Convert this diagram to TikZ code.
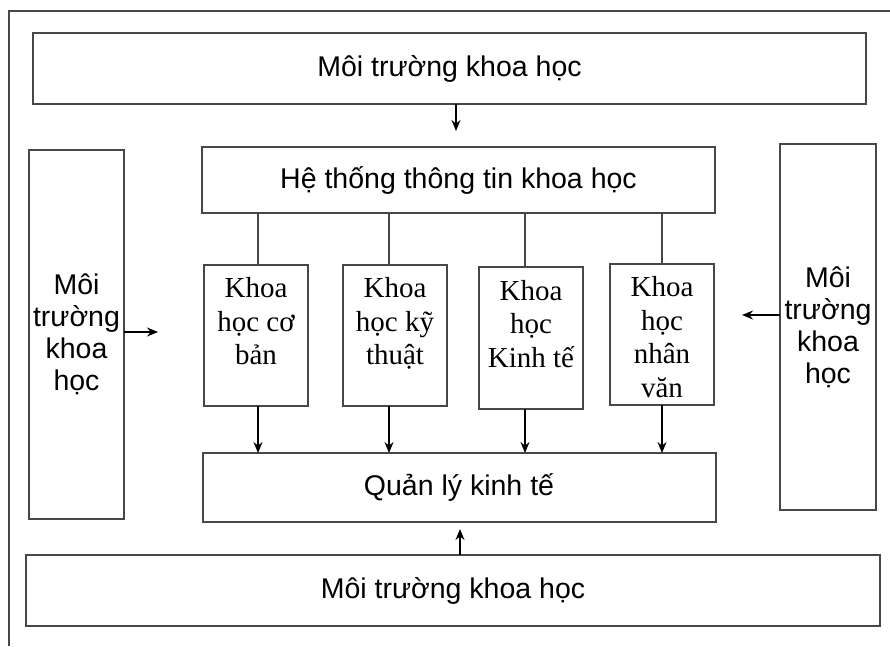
\documentclass[tikz,border=0pt]{standalone}
\usepackage{fontspec}
\setmainfont{Liberation Sans}
\newfontfamily\serifrm{Liberation Serif}
\usetikzlibrary{arrows.meta}
\begin{document}
\begin{tikzpicture}[x=1pt,y=-1pt,
  frameline/.style={line width=2pt,draw=black!72},
  bigbox/.style={frameline,rectangle,inner sep=0pt,outer sep=0pt,
    font=\fontsize{28.5}{32}\selectfont},
  sidebox/.style={frameline,rectangle,inner sep=0pt,outer sep=0pt,align=center,
    font=\fontsize{28.5}{32}\selectfont},
  fieldbox/.style={frameline,rectangle,inner sep=0pt,outer sep=0pt,
    minimum width=104pt,minimum height=141pt},
  fieldtext/.style={align=center,inner sep=0pt,anchor=north,
    font=\serifrm\fontsize{29}{33.5}\selectfont},
  link/.style={line width=2pt,draw=black!72},
  arr/.style={line width=1.6pt,draw=black,-{Stealth[length=11pt,width=9pt]}}]
\useasboundingbox (0,0) rectangle (890,646);

% open outer frame (top and left edges)
\draw[frameline] (9,646) -- (9,11) -- (890,11);

% environment boxes
\node[bigbox,minimum width=833pt,minimum height=71pt] (envtop) at (449.5,68.5) {Môi trường khoa học};
\node[bigbox,minimum width=854pt,minimum height=71pt] (envbot) at (453,590.5) {Môi trường khoa học};
\node[sidebox,minimum width=95pt,minimum height=369pt] (envleft) at (76.5,334.5) {Môi\\trường\\khoa\\học};
\node[sidebox,minimum width=96pt,minimum height=366pt] (envright) at (828,327) {Môi\\trường\\khoa\\học};

% central system
\node[bigbox,minimum width=513pt,minimum height=66pt] (httt) at (458.5,180) {Hệ thống thông tin khoa học};
\node[bigbox,minimum width=513pt,minimum height=69pt] (qlkt) at (459,487.5) {Quản lý kinh tế};

% fields of science
\node[fieldbox] (k1) at (256,335) {};
\node[fieldbox] (k2) at (395,335) {};
\node[fieldbox,minimum height=142pt] (k3) at (531,338) {};
\node[fieldbox] (k4) at (662,334) {};
\node[fieldtext] at ([yshift=-13pt]k1.north) {Khoa\\học cơ\\bản};
\node[fieldtext] at ([yshift=-13pt]k2.north) {Khoa\\học kỹ\\thuật};
\node[fieldtext] at ([yshift=-13pt]k3.north) {Khoa\\học\\Kinh tế};
\node[fieldtext] at ([yshift=-13pt]k4.north) {Khoa\\học\\nhân\\văn};

% connector columns
\coordinate (c1) at (258,0);
\coordinate (c2) at (389,0);
\coordinate (c3) at (525,0);
\coordinate (c4) at (662,0);

\foreach \k/\c in {k1/c1,k2/c2,k3/c3,k4/c4}{
  \draw[link] (httt.south -| \c) -- (\k.north -| \c);
  \draw[arr] (\k.south -| \c) -- (qlkt.north -| \c);
}

% influences from the environment
\coordinate (topend) at (456,131);
\coordinate (botend) at (460,529);
\coordinate (leftend) at (158,332);
\coordinate (rightend) at (742,315);
\draw[arr] (envtop.south -| topend) -- (topend);
\draw[arr] (envbot.north -| botend) -- (botend);
\draw[arr] (envleft.east |- leftend) -- (leftend);
\draw[arr] (envright.west |- rightend) -- (rightend);
\end{tikzpicture}
\end{document}
